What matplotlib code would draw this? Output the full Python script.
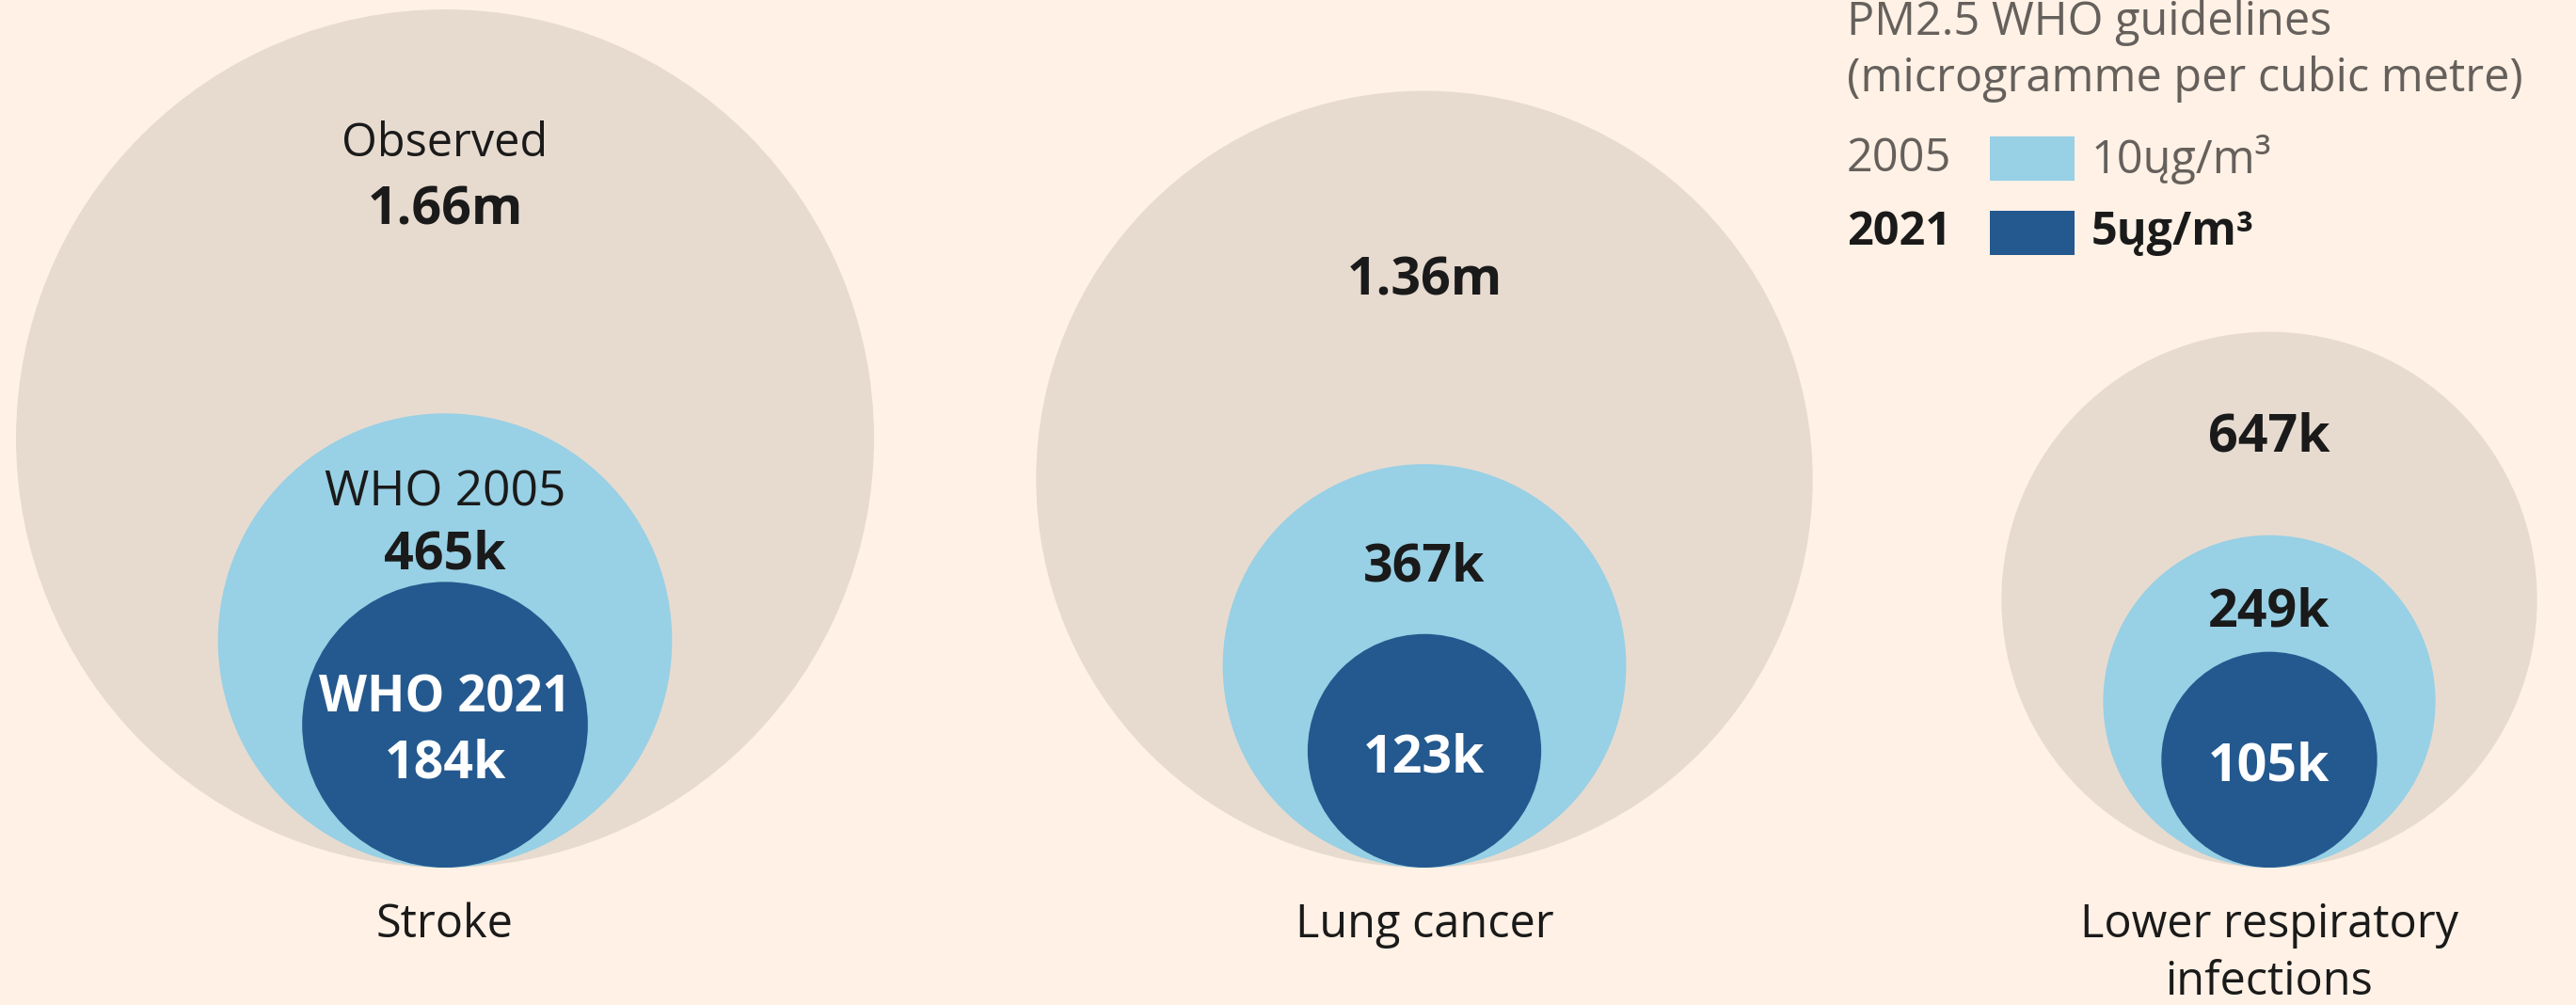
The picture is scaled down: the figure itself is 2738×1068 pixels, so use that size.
import matplotlib
matplotlib.use("Agg")
import matplotlib.pyplot as plt
from matplotlib.patches import Circle, Rectangle
import numpy as np

plt.rcParams['font.family'] = ['Open Sans', 'DejaVu Sans']

# ---- data (deaths, thousands) ----
causes = ["Stroke", "Lung cancer", "Lower respiratory\ninfections"]
observed = [1660, 1360, 647]
who2005 = [465, 367, 249]
who2021 = [184, 123, 105]

legend_title = ["PM2.5 WHO guidelines", "(microgramme per cubic metre)"]
legend_years = ["2005", "2021"]
legend_limits = ["10ųg/m³", "5ųg/m³"]

# ---- style ----
BG = "#FFF1E5"
C_OBS = "#E7DBD0"
C_05 = "#98D0E5"
C_21 = "#24598F"
TXT = "#1A1A1A"
GREY = "#66605C"

W, H = 2738, 1068
fig = plt.figure(figsize=(W / 100, H / 100), dpi=100, facecolor=BG)
ax = fig.add_axes([0, 0, 1, 1])
ax.set_facecolor(BG)
ax.set_xlim(0, W)
ax.set_ylim(H, 0)
ax.set_aspect("equal")
ax.axis("off")

centers_x = [473, 1514, 2412]
base_y = 922
k = 456 / np.sqrt(observed[0])   # radius scale: area proportional


def rad(v):
    return k * np.sqrt(v)


def fmt(v):
    return f"{v/1000:.2f}m" if v >= 1000 else f"{v}k"


FS = 35
FN = 40   # bold numbers
for i, cx in enumerate(centers_x):
    ro, r5, r1 = rad(observed[i]), rad(who2005[i]), rad(who2021[i])
    for r, c in [(ro, C_OBS), (r5, C_05), (r1, C_21)]:
        ax.add_patch(Circle((cx, base_y - r), r, facecolor=c, edgecolor="none"))
    top_o, top_5, top_1 = base_y - 2 * ro, base_y - 2 * r5, base_y - 2 * r1
    y_o = (top_o + top_5) / 2 + 4
    y_5 = (top_5 + top_1) / 2 + 20
    y_1 = base_y - r1 + 8
    if i == 0:
        ax.text(cx, y_o - 75, "Observed", ha="center", va="center", fontsize=FS, color=TXT)
        ax.text(cx, y_o - 5, fmt(observed[i]), ha="center", va="center",
                fontsize=FN, color=TXT, fontweight="bold")
        ax.text(cx, y_5 - 25, "WHO 2005", ha="center", va="center", fontsize=37, color=TXT)
        ax.text(cx, y_5 + 41, fmt(who2005[i]), ha="center", va="center", fontsize=FN,
                color=TXT, fontweight="bold")
        ax.text(cx, y_1 - 36, "WHO 2021", ha="center", va="center", fontsize=38,
                color="white", fontweight="bold")
        ax.text(cx, y_1 + 34, fmt(who2021[i]), ha="center", va="center", fontsize=FN,
                color="white", fontweight="bold")
    else:
        ax.text(cx, y_o, fmt(observed[i]), ha="center", va="center",
                fontsize=FN, color=TXT, fontweight="bold")
        ax.text(cx, y_5, fmt(who2005[i]), ha="center", va="center", fontsize=FN,
                color=TXT, fontweight="bold")
        ax.text(cx, y_1, fmt(who2021[i]), ha="center", va="center", fontsize=FN,
                color="white", fontweight="bold")
    for j, line in enumerate(causes[i].split("\n")):
        ax.text(cx, 983 + j * 61, line, ha="center", va="center", fontsize=FS, color=TXT)

# ---- legend ----
lx = 1963
ax.text(lx, 24, legend_title[0], ha="left", va="center", fontsize=FS, color=GREY)
ax.text(lx, 84, legend_title[1], ha="left", va="center", fontsize=FS, color=GREY)
rows_y = [169, 248]
for j, (yr, lim, col) in enumerate(zip(legend_years, legend_limits, [C_05, C_21])):
    bold = "bold" if j == 1 else "normal"
    tc = TXT if j == 1 else GREY
    ax.text(lx, rows_y[j], yr, ha="left", va="center", fontsize=FS, color=tc, fontweight=bold)
    ax.add_patch(Rectangle((2115, rows_y[j] - 24), 90, 47, facecolor=col, edgecolor="none"))
    ax.text(2223, rows_y[j], lim, ha="left", va="center", fontsize=FS, color=tc, fontweight=bold)

fig.savefig("out.png", dpi=100, facecolor=BG)
